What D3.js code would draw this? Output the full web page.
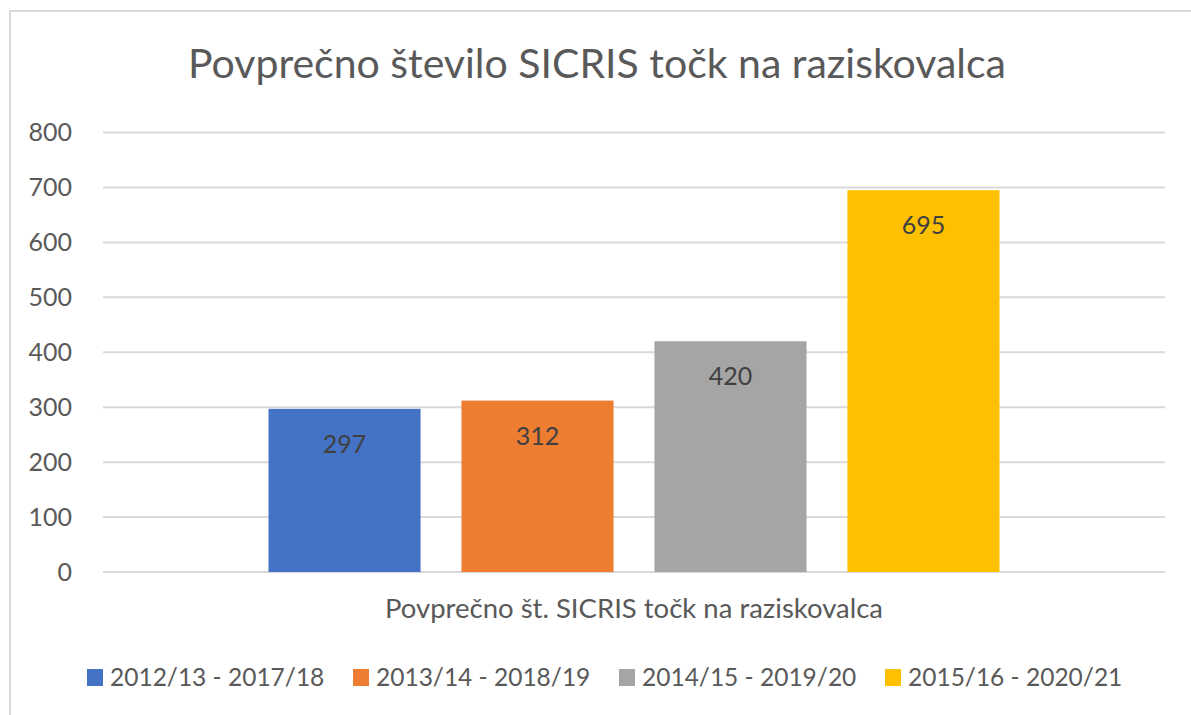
<!DOCTYPE html>
<html>
<head>
<meta charset="utf-8">
<script src="https://cdn.jsdelivr.net/npm/d3@7"></script>
<style>
  body { margin: 0; background: #fff; }
  text { font-family: Lato, "Open Sans", sans-serif; }
</style>
</head>
<body>
<script>
const SvgWidth = 1191, SvgHeight = 715;
var margin = {top: 132.5, right: 26, bottom: 143, left: 103};
var Width = SvgWidth - margin.left - margin.right;
var Height = SvgHeight - margin.top - margin.bottom;

// data
var categories = ['Povprečno št. SICRIS točk na raziskovalca'];
var seriesNames = ['2012/13 - 2017/18', '2013/14 - 2018/19', '2014/15 - 2019/20', '2015/16 - 2020/21'];
var seriesValues = [297, 312, 420, 695];
var yTicks = [0, 100, 200, 300, 400, 500, 600, 700, 800];
var colors = ['#4472C4', '#ED7D31', '#A5A5A5', '#FFC000'];
var title = 'Povprečno število SICRIS točk na raziskovalca';

var svg = d3.select('body')
			.append('svg')
			.attr('width', SvgWidth)
			.attr('height', SvgHeight)
			.style('background-color', 'white');

// chart frame
svg.append('rect')
	.attr('x', 10).attr('y', 11)
	.attr('width', SvgWidth + 10).attr('height', SvgHeight + 10)
	.attr('fill', 'none')
	.attr('stroke', '#d9d9d9')
	.attr('stroke-width', 2);

svg.append('text')
	.attr('x', 597)
	.attr('y', 78)
	.attr('text-anchor', 'middle')
	.attr('fill', '#595959')
	.style('font-size', '41px')
	.text(title);

var g = svg.append('g')
			.attr('transform', 'translate(' + margin.left + ',' + margin.top + ')');

var y = d3.scaleLinear().domain([0, 800]).range([Height, 0]);
var x0 = d3.scaleBand().domain(categories).range([0, Width]).paddingInner(0).paddingOuter(0.2264);
var x1 = d3.scaleBand().domain(seriesNames).range([0, x0.bandwidth()]).paddingInner(0.212).paddingOuter(0);

// gridlines
g.append('g')
	.selectAll('line')
	.data(yTicks)
	.enter().append('line')
	  .attr('x1', 0).attr('x2', Width)
	  .attr('y1', function(d) { return y(d); })
	  .attr('y2', function(d) { return y(d); })
	  .attr('stroke', '#d9d9d9')
	  .attr('stroke-width', 2);

// y axis labels
var yAxis = g.append('g')
	.call(d3.axisLeft(y).tickValues(yTicks).tickSize(0).tickPadding(31));
yAxis.select('.domain').remove();
yAxis.selectAll('text')
	.attr('fill', '#595959')
	.style('font-size', '25px')
	.style('font-family', 'Lato, "Open Sans", sans-serif');

var group = g.append('g')
	.attr('transform', 'translate(' + x0(categories[0]) + ',0)');

group.selectAll('.bar')
	.data(seriesValues)
	.enter().append('rect')
	  .attr('class', 'bar')
	  .attr('fill', function(d, i) { return colors[i]; })
	  .attr('x', function(d, i) { return x1(seriesNames[i]); })
	  .attr('y', function(d) { return y(d); })
	  .attr('width', x1.bandwidth())
	  .attr('height', function(d) { return Height - y(d); });

group.selectAll('.label')
	.data(seriesValues)
	.enter().append('text')
	  .attr('class', 'label')
	  .attr('x', function(d, i) { return x1(seriesNames[i]) + x1.bandwidth() / 2; })
	  .attr('y', function(d) { return y(d) + 44; })
	  .attr('text-anchor', 'middle')
	  .attr('fill', '#404040')
	  .style('font-size', '25px')
	  .text(function(d) { return d; });

// x axis category label
g.append('text')
	.attr('x', x0(categories[0]) + x0.bandwidth() / 2)
	.attr('y', Height + 46)
	.attr('text-anchor', 'middle')
	.attr('fill', '#595959')
	.style('font-size', '27.5px')
	.text(categories[0]);

// legend
var legend = svg.append('g').attr('transform', 'translate(87,669)');
var item = legend.selectAll('.item')
	.data(seriesNames)
	.enter().append('g')
	  .attr('class', 'item')
	  .attr('transform', function(d, i) { return 'translate(' + i * 266 + ',0)'; });
item.append('rect')
	.attr('width', 16).attr('height', 17)
	.attr('fill', function(d, i) { return colors[i]; });
item.append('text')
	.attr('x', 23)
	.attr('y', 17)
	.attr('fill', '#595959')
	.style('font-size', '24.5px')
	.text(function(d) { return d; });
</script>
</body>
</html>
